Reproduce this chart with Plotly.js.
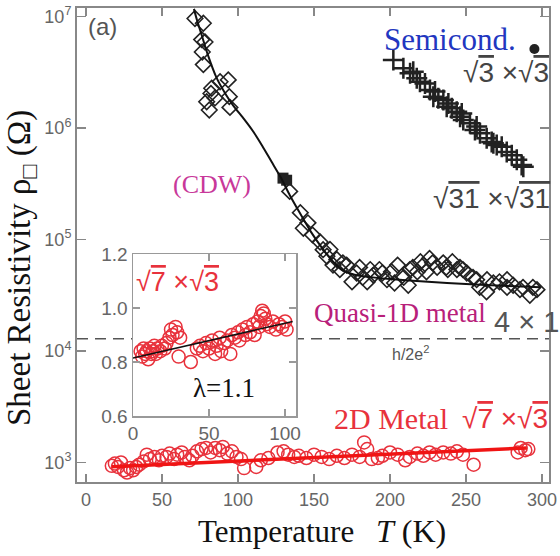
<!DOCTYPE html>
<html><head><meta charset="utf-8">
<script src="https://cdn.plot.ly/plotly-3.0.1.min.js"></script>
<style>html,body{margin:0;padding:0;background:#fff}#chart{width:560px;height:556px}</style>
</head><body><div id="chart"></div>
<script>
// ---- data ----
const cdwT = [71.7,77.2,76.1,78.3,76.5,77.2,82.7,82.2,88.2,93.6,94.3,94.7,79.4,81.1,84.9,
  134,141,143,146,149,154,160.5,156,162.5,167,171.5,175,178,182,189,193,198,205,209,212,218,220,226,231,235,241,246,250.5,254.6,259,263.5,268,272,277,281,285.5,292,296.7,263.8,224,213,238,185,203,
  158.5,165,169,180,187,195,201,215,222,228,237,244,248,257,277,287.5,294];
const cdwR = [9.6e6,8.7e6,6.2e6,5.9e6,4.8e6,3.7e6,2.27e6,2.04e6,2.6e6,2.7e6,1.91e6,1.53e6,1.72e6,1.45e6,1.86e6,
  2.7e5,1.74e5,1.26e5,1.41e5,1.1e5,9.5e4,8.13e4,8.1e4,5.89e4,5.37e4,5.89e4,4.17e4,5.01e4,4.57e4,4.79e4,5.37e4,4.36e4,5.89e4,4.57e4,3.89e4,5.13e4,6.31e4,6.76e4,5.62e4,6.17e4,6.31e4,5.62e4,5.01e4,4.57e4,3.72e4,3.39e4,4.07e4,4.17e4,3.72e4,3.89e4,3.55e4,3.16e4,3.55e4,4.36e4,5.13e4,5.37e4,5.37e4,4.17e4,4.07e4,
  7.08e4,6.61e4,6.17e4,5.62e4,5.37e4,5.01e4,5.13e4,5.62e4,5.89e4,6.17e4,5.62e4,5.37e4,5.37e4,4.36e4,4.36e4,3.72e4,3.72e4];
const cdwFilledT = [129.6,132];
const cdwFilledR = [3.55e5,3.4e5];
const cdwFitT = [71,73,76,80,86,92,97,104,110,116,122,128,134,141,148,155,162,168,175,185,200,225,250,275,299];
const cdwFitR = [1.17e7,9.3e6,6.9e6,4.6e6,2.8e6,2.0e6,1.58e6,1.2e6,9.3e5,6.9e5,5.0e5,3.63e5,2.51e5,1.7e5,1.17e5,8.5e4,6.45e4,5.37e4,4.9e4,4.62e4,4.42e4,4.17e4,3.98e4,3.85e4,3.72e4];

const semiT = [202.2,208.8,213.2,215.3,217.6,219.7,223,226.3,228.5,229.6,231.8,235.1,237.3,238.4,240.6,243.9,246.1,247.2,248.2,252.6,255.9,257,259.2,263.6,266.9,268,270.2,273.5,276.8,280.1,283.4,286.6,287.7];
const semiR = [4.07e6,3.43e6,3.09e6,3.2e6,2.79e6,2.6e6,2.51e6,2.19e6,1.91e6,2.12e6,1.85e6,1.78e6,1.55e6,1.66e6,1.5e6,1.4e6,1.26e6,1.35e6,1.18e6,1.1e6,9.6e5,1.03e6,8.95e5,8.1e5,7.5e5,7.3e5,7.05e5,6.8e5,6.1e5,5.7e5,5.2e5,4.66e5,4.5e5];
const dotT = [295];
const dotR = [5.1e6];

const metalT = [17,19,21,23,25,27,29,31,33,35,38,40,42,45,48,50,53,55,58,60,63,65,68,70,73,76,79,82,85,88,90,93,96,99,102,104,112,115,120,126,130,133,137,140,145,150,155,160,165,170,175,180,183,185,188,192,195,200,205,210,213,218,222,226,230,235,240,244,248,255,284,286,289,291];
const metalR = [933,977,912,1000,851,813,891,851,912,955,1023,1175,1072,1122,1047,1148,1122,1202,1072,1175,1230,1122,1047,1148,1259,1318,1349,1230,1349,1288,1380,1202,1259,1122,1072,891,912,1047,1096,1230,1259,1175,1122,1148,1096,1175,1122,1072,1148,1096,1175,1122,1514,1318,1072,1096,1148,1230,1175,1047,1122,1202,1148,1230,1175,1230,1202,1259,1175,955,1230,1349,1288,1318];
const metalFitT = [17,290];
const metalFitR = [915,1350];

const insetT = [5,6,7,8,9,10,11,12,13,14,15,16,18,19,21,22,24,25,26,28,29,30,31,38,42,44,46,48,50,52,54,55,57,58,60,62,64,65,67,69,70,72,74,75,77,79,80,82,83,84,85,86,87,88,90,92,94,96,98,100,101];
const insetV = [0.84,0.82,0.85,0.83,0.84,0.81,0.85,0.83,0.84,0.86,0.83,0.85,0.84,0.86,0.85,0.87,0.89,0.92,0.90,0.93,0.91,0.82,0.89,0.80,0.85,0.86,0.84,0.87,0.85,0.88,0.83,0.86,0.89,0.84,0.87,0.88,0.83,0.90,0.89,0.91,0.88,0.92,0.90,0.93,0.91,0.94,0.90,0.95,0.93,0.97,0.99,0.98,0.96,0.94,0.93,0.95,0.92,0.94,0.93,0.95,0.92];
const insetFitT = [0,105];
const insetFitV = [0.815,0.95];

const hLine = 12906; // h/2e^2
const xTicks = [0,50,100,150,200,250,300];
const yTicks = [1e3,1e4,1e5,1e6,1e7];
const yTickText = ['10<sup>3</sup>','10<sup>4</sup>','10<sup>5</sup>','10<sup>6</sup>','10<sup>7</sup>'];
const insetXTicks = [0,50,100];
const insetYTicks = [0.6,0.8,1.0,1.2];
const insetYText = ['0.6','0.8','1.0','1.2'];

// ---- layout helpers (pixel -> paper) ----
const L=77, R=549, T=8, B=482;
const px = x => (x-L)/(R-L);
const py = y => (B-y)/(B-T);
const xRange = [-5.92, 304.6];

const SANS = 'Liberation Sans, Arial, sans-serif';
const SERIF = 'Liberation Serif, Times New Roman, serif';
const RED = '#e8323c';
const ov = s => '√<span style="text-decoration:overline">'+s+'</span>';

const traces = [
  {x:xRange, y:[hLine,hLine], mode:'lines', line:{color:'#555', width:1.5, dash:'11px,7px'}, hoverinfo:'skip'},
  {x:metalT, y:metalR, mode:'markers', marker:{symbol:'circle-open', size:13, color:RED, line:{width:1.5, color:RED}}},
  {x:metalFitT, y:metalFitR, mode:'lines', line:{color:'#f01414', width:3.5}},
  {x:cdwT, y:cdwR, mode:'markers', marker:{symbol:'diamond-open', size:12, color:'#222', line:{width:1.6, color:'#222'}}},
  {x:cdwFilledT, y:cdwFilledR, mode:'markers', marker:{symbol:'square', size:11, color:'#222'}},
  {x:cdwFitT, y:cdwFitR, mode:'lines', line:{color:'#111', width:2, shape:'spline', smoothing:0.6}},
  {x:semiT, y:semiR, mode:'markers', marker:{symbol:'cross-thin-open', size:15, color:'#222', line:{width:2.5, color:'#222'}}},
  {x:dotT, y:dotR, mode:'markers', marker:{symbol:'circle', size:10, color:'#222'}},
  {x:insetT, y:insetV, xaxis:'x2', yaxis:'y2', mode:'markers', marker:{symbol:'circle-open', size:13, color:RED, line:{width:1.5, color:RED}}},
  {x:insetFitT, y:insetFitV, xaxis:'x2', yaxis:'y2', mode:'lines', line:{color:'#111', width:1.5}}
];

const ann = (x,y,text,font,xa='left',ya='middle',extra={}) => Object.assign({xref:'paper',yref:'paper',x:px(x),y:py(y),text,showarrow:false,xanchor:xa,yanchor:ya,font},extra);

const layout = {
  width:560, height:556,
  margin:{l:L, r:560-R, t:T, b:556-B},
  paper_bgcolor:'#fff', plot_bgcolor:'#fff',
  showlegend:false,
  xaxis:{range:xRange, tickvals:xTicks, ticks:'inside', ticklen:8, tickwidth:1.5, tickcolor:'#888',
    showline:true, linecolor:'#888', linewidth:2, mirror:'ticks', showgrid:false, zeroline:false,
    tickfont:{family:SANS, size:18, color:'#666'}},
  yaxis:{type:'log', range:[2.825,7.076], tickvals:yTicks, ticktext:yTickText, ticks:'inside', ticklen:9, tickwidth:1.5, tickcolor:'#888',
    showline:true, linecolor:'#888', linewidth:2, mirror:'ticks', showgrid:false, zeroline:false,
    tickfont:{family:SANS, size:18, color:'#666'}},
  xaxis2:{domain:[px(133),px(296)], anchor:'y2', range:[0,107.2], tickvals:insetXTicks, ticks:'inside', ticklen:7, tickwidth:1.2, tickcolor:'#999',
    showline:true, linecolor:'#999', linewidth:1.5, mirror:'ticks', showgrid:false, zeroline:false,
    tickfont:{family:SANS, size:19, color:'#666'}},
  yaxis2:{domain:[py(416),py(254)], anchor:'x2', range:[0.6,1.2], tickvals:insetYTicks, ticktext:insetYText, ticks:'inside', ticklen:7, tickwidth:1.2, tickcolor:'#999',
    showline:true, linecolor:'#999', linewidth:1.5, mirror:'ticks', showgrid:false, zeroline:false,
    tickfont:{family:SANS, size:19, color:'#666'}},
  annotations:[
    ann(21,268,'Sheet Resistivity ρ<sub>□</sub> (Ω)',{family:SERIF,size:33,color:'#111'},'center','middle',{textangle:-90}),
    ann(196,531,'Temperature',{family:SERIF,size:31,color:'#111'}),
    ann(374,531,'<i>T</i> (K)',{family:SERIF,size:32,color:'#111'}),
    ann(86,27,'(a)',{family:SANS,size:24,color:'#555'}),
    ann(382,40,'Semicond.',{family:SERIF,size:31,color:'#2236c0'}),
    ann(461,72,ov('3')+' ×'+ov('3'),{family:SANS,size:28,color:'#444'}),
    ann(431,199,ov('31')+' ×'+ov('31'),{family:SANS,size:28,color:'#444'}),
    ann(171,184,'(CDW)',{family:SERIF,size:26,color:'#c8389a'}),
    ann(312,313,'Quasi-1D metal',{family:SERIF,size:27,color:'#b8207a'}),
    ann(492,322,'4 × 1',{family:SANS,size:29,color:'#555'}),
    ann(410,353,'h/2e<sup>2</sup>',{family:SANS,size:16,color:'#555'},'center'),
    ann(332,418,'2D Metal',{family:SERIF,size:30,color:RED}),
    ann(460,418,ov('7')+' ×'+ov('3'),{family:SANS,size:28,color:RED}),
    ann(134,282,ov('7')+' ×'+ov('3'),{family:SANS,size:27,color:RED}),
    ann(191,388,'λ=1.1',{family:SERIF,size:27,color:'#111'})
  ]
};

Plotly.newPlot('chart', traces, layout, {displayModeBar:false, staticPlot:true});
</script>
</body></html>
